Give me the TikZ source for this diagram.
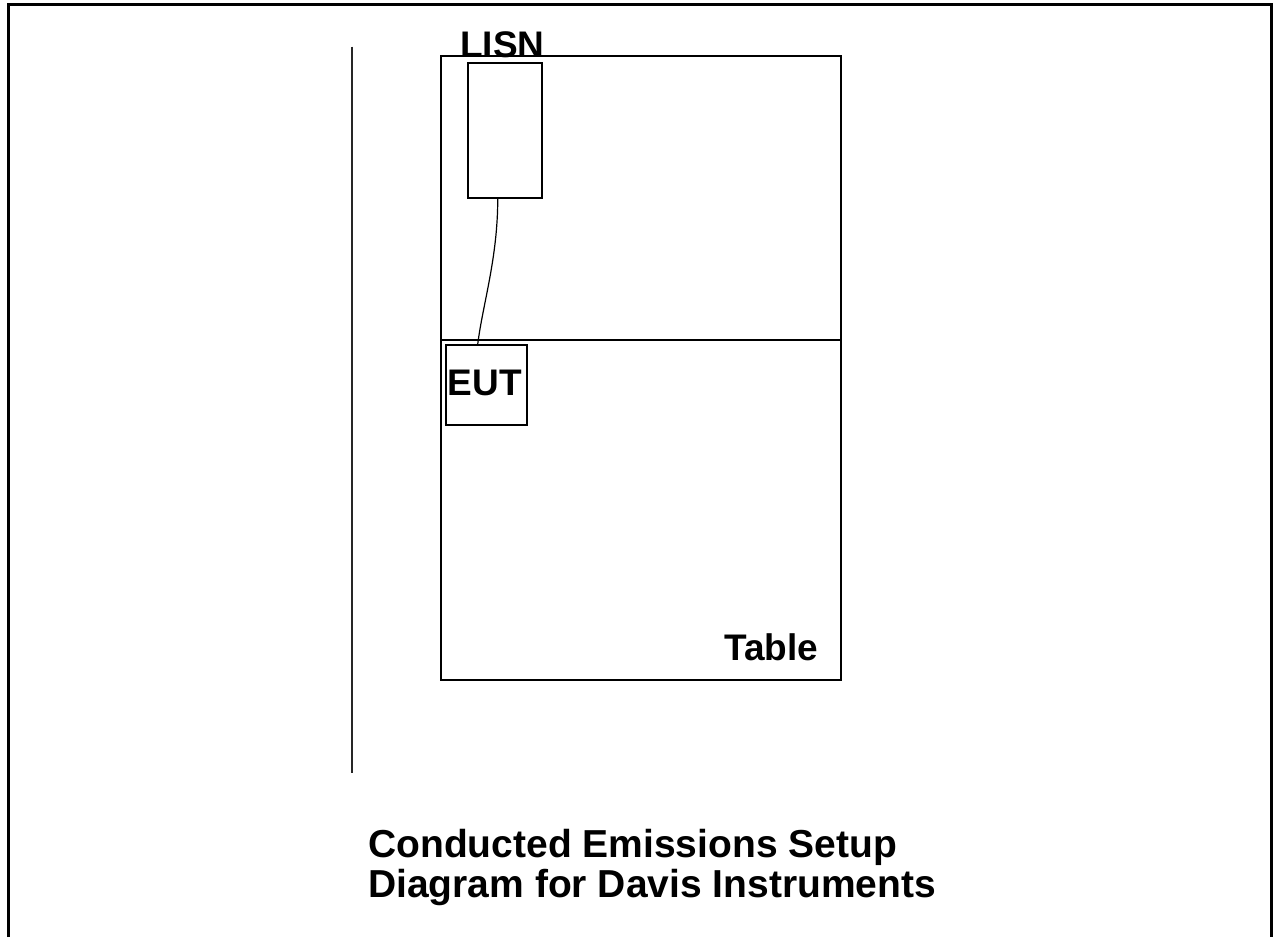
\documentclass[tikz,border=0pt]{standalone}
\usepackage{fontspec}
\setmainfont{Liberation Sans}
\begin{document}
\begin{tikzpicture}[x=1pt,y=-1pt,
  thinline/.style={draw=black,line width=1.5pt},
  lbl/.style={inner sep=0pt,anchor=base west,font=\fontsize{37}{37}\selectfont\bfseries},
  ttl/.style={inner sep=0pt,anchor=base west,font=\fontsize{39}{40}\selectfont\bfseries}]
\useasboundingbox (0,0) rectangle (1274,937);
\fill[white] (0,0) rectangle (1274,937);
% outer frame (open at the bottom edge of the picture)
\draw[line width=3pt] (8,937) -- (8,4) -- (1271,4) -- (1271,937);
% vertical wall line
\draw[line width=2pt,draw=black!85] (352,46.5) -- (352,773);
% table
\draw[thinline] (441,56) rectangle (841,680) coordinate (tableSE);
\draw[thinline] (441,340) -- (841,340);
% LISN
\node[thinline,minimum width=74pt,minimum height=135pt,inner sep=0pt,anchor=north west] (lisn) at (467,62) {};
\node[lbl] (lisnlbl) at (460,57) {LISN};
% EUT
\node[thinline,minimum width=81pt,minimum height=80pt,inner sep=0pt,anchor=north west] (eut) at (445,344) {};
\node[lbl] (eutlbl) at (447.5,395) {EUT};
% cable
\draw[line width=1.2pt] ([xshift=-7pt]lisn.south) .. controls +(0,60) and +(5,-40) .. ([xshift=-8.5pt]eut.north);
% table label
\node[lbl] (tablelbl) at (724,660) {Table};
% title
\node[ttl] (title1) at (368,857) {Conducted Emissions Setup};
\node[ttl] (title2) at (368,897) {Diagram for Davis Instruments};
\end{tikzpicture}
\end{document}
